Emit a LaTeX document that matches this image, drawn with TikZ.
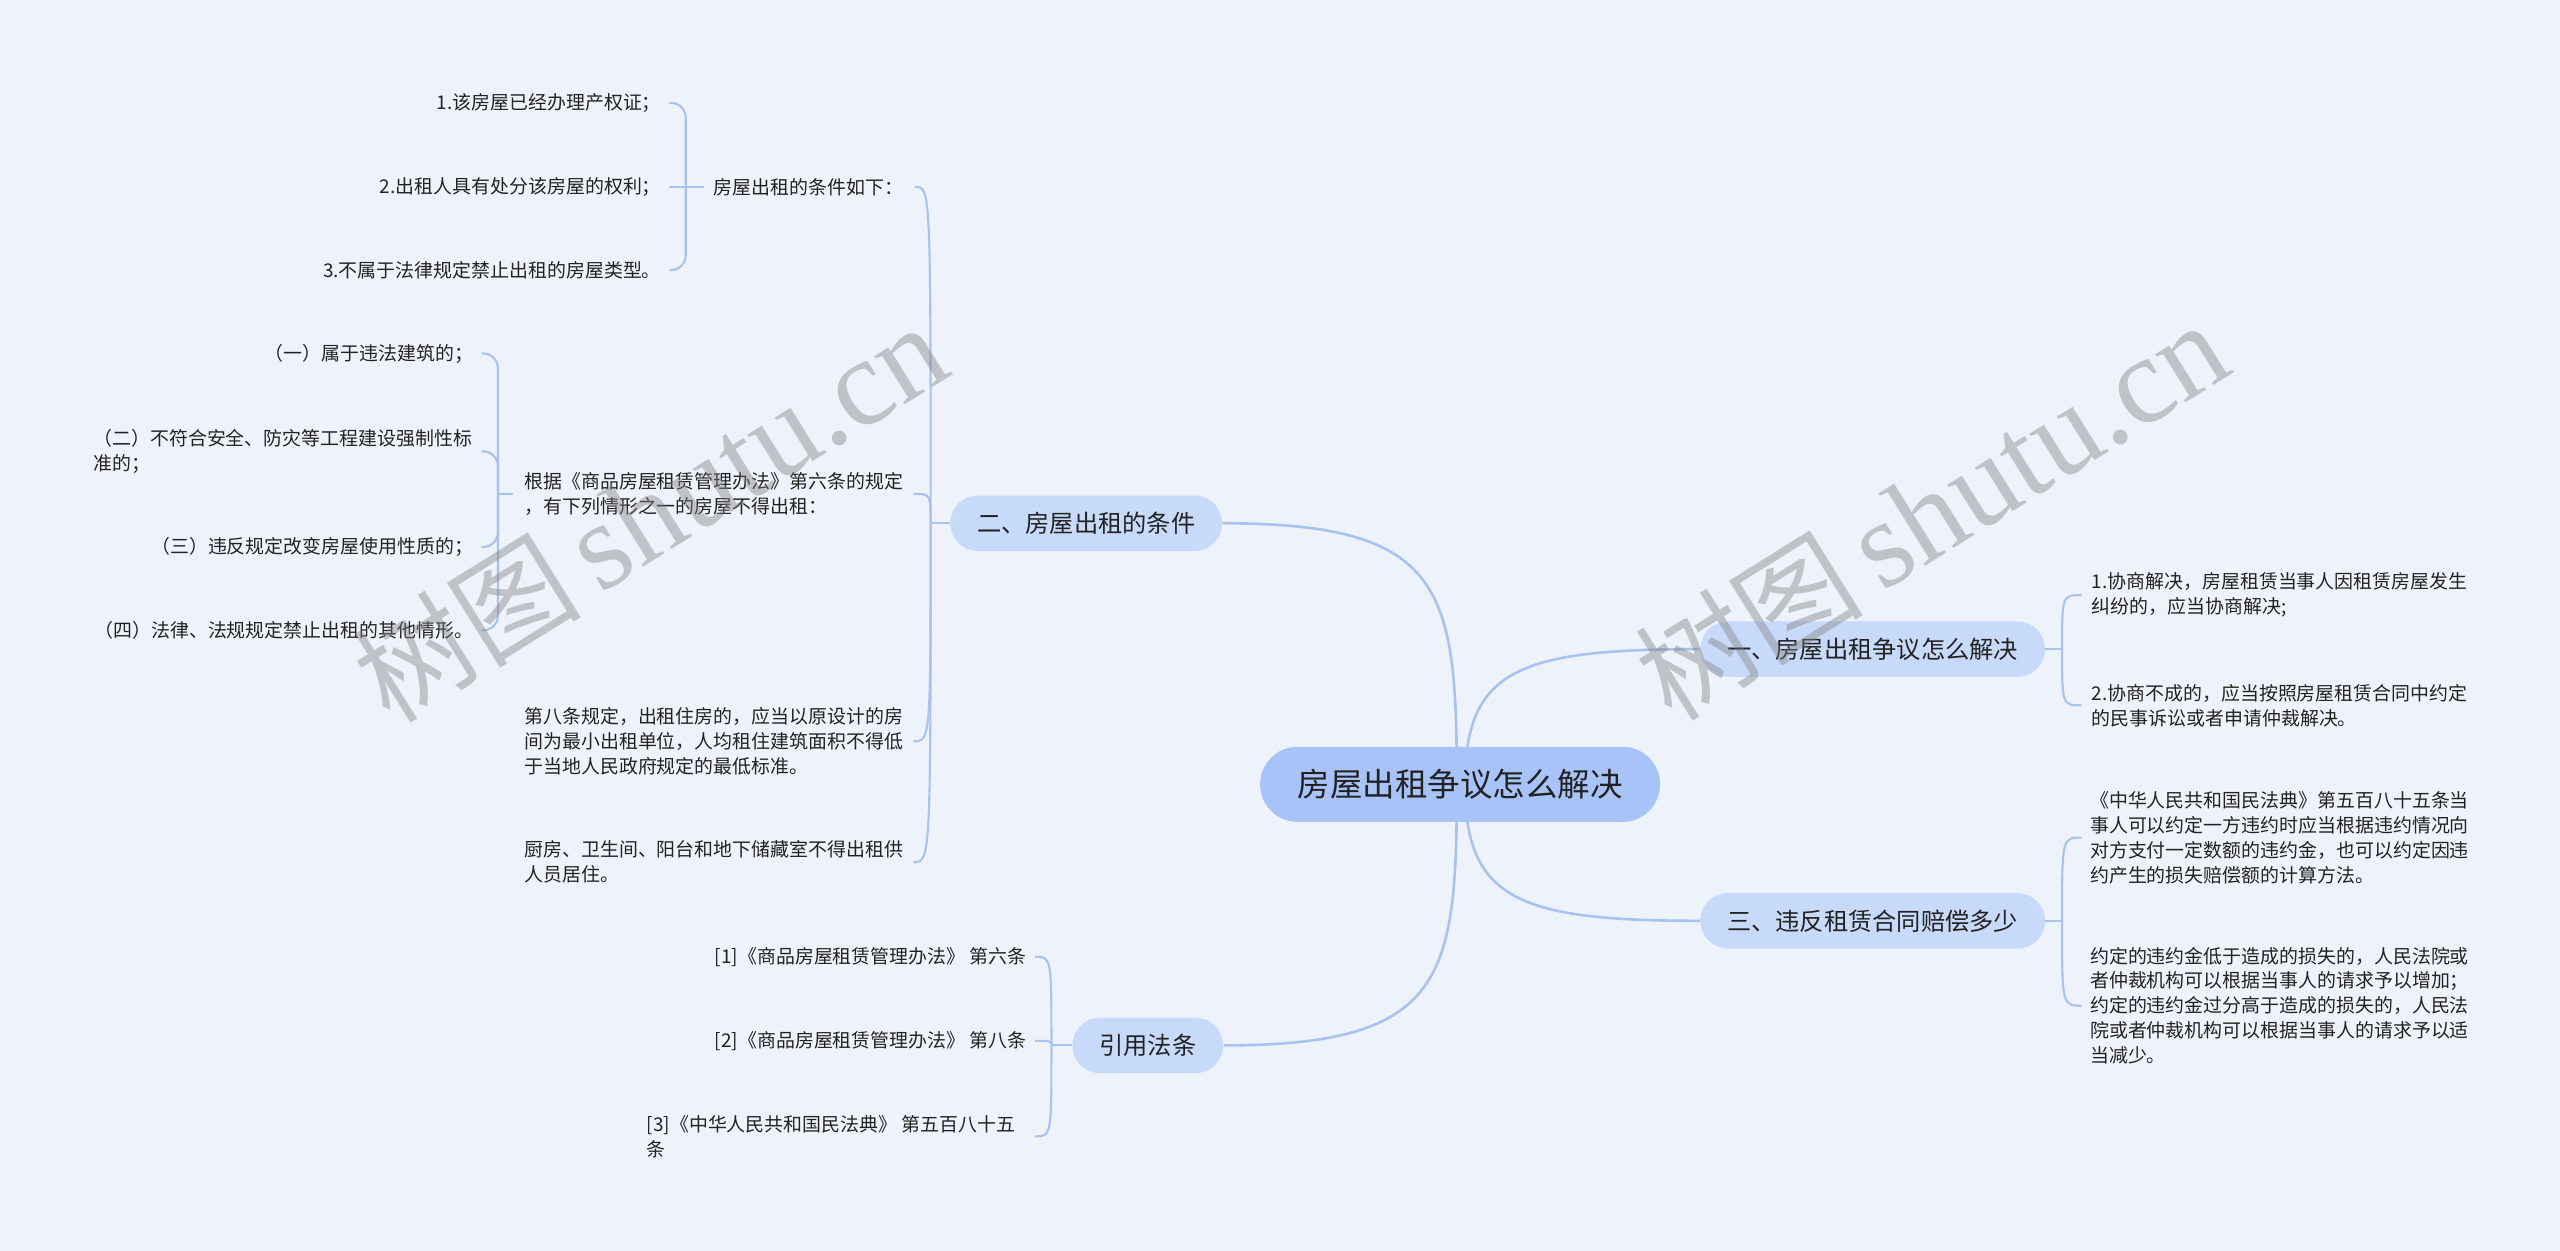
\documentclass[tikz,border=0pt]{standalone}
\usepackage{fontspec}
\newfontfamily\cjk{Noto Sans CJK SC}
\newfontfamily\wmserif{Liberation Serif}
\usetikzlibrary{calc,backgrounds}
\definecolor{bgc}{HTML}{EEF3FB}
\definecolor{rootc}{HTML}{A8C3F8}
\definecolor{lonec}{HTML}{C8DAF9}
\definecolor{linec}{HTML}{A9C2EE}
\definecolor{txt}{HTML}{222222}
\definecolor{wmc}{HTML}{808080}
\tikzset{
  conn/.style={draw=linec, line width=1.3pt},
  mainconn/.style={draw=linec, line width=1.6pt},
  rootn/.style={fill=rootc, rounded corners=23pt, minimum width=245pt, minimum height=46pt, inner sep=0pt, font=\cjk\fontsize{19.9}{24}\selectfont, text=txt},
  lone/.style={fill=lonec, rounded corners=17pt, minimum height=34pt, inner xsep=16.5pt, inner ysep=0pt, font=\cjk\fontsize{14.85}{18}\selectfont, text=txt},
  leaf/.style={inner sep=0pt, font=\cjk\fontsize{11.6}{15.3}\selectfont, text=txt},
  leafm/.style={leaf, align=left},
  wm/.style={text=wmc, opacity=0.42, inner sep=0pt},
}
\begin{document}
\begin{tikzpicture}[x=1pt,y=-1pt]
\useasboundingbox (0,0) rectangle (1568,766);
% root and level 1
\node[rootn] (root) at (894.3,480.4) {房屋出租争议怎么解决};
\node[lone] (n1) at (1147,397.6) {一、房屋出租争议怎么解决};
\node[lone] (n3) at (1147,564) {三、违反租赁合同赔偿多少};
\node[lone] (n2) at (665.3,320.5) {二、房屋出租的条件};
\node[lone] (n4) at (703,640.3) {引用法条};
% branch 二
\node[leaf, anchor=west] (p1) at (437,114.5) {房屋出租的条件如下：};
\node[leafm, anchor=west] (p2) at (321,302.5) {根据《商品房屋租赁管理办法》第六条的规定\\，有下列情形之一的房屋不得出租：};
\node[leafm, anchor=west] (p3) at (321,454) {第八条规定，出租住房的，应当以原设计的房\\间为最小出租单位，人均租住建筑面积不得低\\于当地人民政府规定的最低标准。};
\node[leafm, anchor=west] (p4) at (321,528) {厨房、卫生间、阳台和地下储藏室不得出租供\\人员居住。};
\node[leaf, anchor=east] (a1) at (405,63) {1.该房屋已经办理产权证；};
\node[leaf, anchor=east] (a2) at (405,114.5) {2.出租人具有处分该房屋的权利；};
\node[leaf, anchor=east] (a3) at (405,165.4) {3.不属于法律规定禁止出租的房屋类型。};
\node[leaf, anchor=east] (b1) at (290,216.5) {（一）属于违法建筑的；};
\node[leafm, anchor=west] (b2) at (57,276.5) {（二）不符合安全、防灾等工程建设强制性标\\准的；};
\node[leaf, anchor=east] (b3) at (290,335) {（三）违反规定改变房屋使用性质的；};
\node[leaf, anchor=east] (b4) at (290,386) {（四）法律、法规规定禁止出租的其他情形。};
% branch 引用法条
\node[leaf, anchor=east] (r1) at (629,586) {[1]《商品房屋租赁管理办法》 第六条};
\node[leaf, anchor=east] (r2) at (629,637.5) {[2]《商品房屋租赁管理办法》 第八条};
\node[leafm, anchor=west] (r3) at (396,696) {[3]《中华人民共和国民法典》 第五百八十五\\条};
% branch 一
\node[leafm, anchor=west] (c1) at (1281,364.5) {1.协商解决，房屋租赁当事人因租赁房屋发生\\纠纷的，应当协商解决;};
\node[leafm, anchor=west] (c2) at (1281,432) {2.协商不成的，应当按照房屋租赁合同中约定\\的民事诉讼或者申请仲裁解决。};
% branch 三
\node[leafm, anchor=west] (d1) at (1280,513) {《中华人民共和国民法典》第五百八十五条当\\事人可以约定一方违约时应当根据违约情况向\\对方支付一定数额的违约金，也可以约定因违\\约产生的损失赔偿额的计算方法。};
\node[leafm, anchor=west] (d2) at (1280,616) {约定的违约金低于造成的损失的，人民法院或\\者仲裁机构可以根据当事人的请求予以增加；\\约定的违约金过分高于造成的损失的，人民法\\院或者仲裁机构可以根据当事人的请求予以适\\当减少。};
% bracket spine points
\coordinate (s1) at (1263,397.6);
\coordinate (s3) at (1263,564);
\coordinate (s2) at (570,320.5);
\coordinate (s4) at (644,640.3);
\coordinate (t1) at (420,114.5);
\coordinate (t2) at (305,302.5);
\begin{pgfonlayer}{background}
\fill[bgc] (0,0) rectangle (1568,766);
% root to level 1
\draw[mainconn] ([xshift=-2pt]root.center) .. controls (892.3,360) and (885,320.5) .. (n2.east);
\draw[mainconn] ([xshift=-2pt]root.center) .. controls (892.3,600) and (885,640.3) .. (n4.east);
\draw[mainconn] ([xshift=3pt]root.center) .. controls (897.3,410) and (930,397.6) .. (n1.west);
\draw[mainconn] ([xshift=3pt]root.center) .. controls (897.3,551) and (930,564) .. (n3.west);
% branch 一
\draw[conn] (n1.east) -- (s1);
\draw[conn] (s1) .. controls (s1 |- c1.west) .. ($(c1.west)+(-6,0)$);
\draw[conn] (s1) .. controls (s1 |- c2.west) .. ($(c2.west)+(-6,0)$);
% branch 三
\draw[conn] (n3.east) -- (s3);
\draw[conn] (s3) .. controls (s3 |- d1.west) .. ($(d1.west)+(-5,0)$);
\draw[conn] (s3) .. controls (s3 |- d2.west) .. ($(d2.west)+(-5,0)$);
% branch 二
\draw[conn] (n2.west) -- (s2);
\draw[conn] (s2) .. controls (s2 |- p1.east) .. ($(p1.east)+(7,0)$);
\draw[conn] (s2) .. controls (s2 |- p2.east) .. ($(p2.east)+(6,0)$);
\draw[conn] (s2) .. controls (s2 |- p3.east) .. ($(p3.east)+(6,0)$);
\draw[conn] (s2) .. controls (s2 |- p4.east) .. ($(p4.east)+(6,0)$);
% branch 引用法条
\draw[conn] (n4.west) -- (s4);
\draw[conn] (s4) .. controls (s4 |- r1.east) .. ($(r1.east)+(5,0)$);
\draw[conn] (s4) .. controls (s4 |- r2.east) .. ($(r2.east)+(5,0)$);
\draw[conn] (s4) .. controls (s4 |- r3.west) .. ($(r3.west)+(238,0)$);
% sub-bracket 房屋出租的条件如下
\draw[conn] ($(p1.west)+(-6,0)$) -- (t1);
\draw[conn, rounded corners=9pt] (t1) |- ($(a1.east)+(5,0)$);
\draw[conn] (t1) -- ($(a2.east)+(5,0)$);
\draw[conn, rounded corners=9pt] (t1) |- ($(a3.east)+(5,0)$);
% sub-bracket 根据
\draw[conn] ($(p2.west)+(-7,0)$) -- (t2);
\draw[conn, rounded corners=9pt] (t2) |- ($(b1.east)+(5,0)$);
\draw[conn, rounded corners=9pt] (t2) |- ($(b2.west)+(238,0)$);
\draw[conn, rounded corners=9pt] (t2) |- ($(b3.east)+(5,0)$);
\draw[conn, rounded corners=9pt] (t2) |- ($(b4.east)+(5,0)$);
\end{pgfonlayer}
% watermarks
\node[wm, rotate=32] (w1) at (398,314) {\cjk\fontsize{70}{76}\selectfont 树图\,{\wmserif\fontsize{76}{80}\selectfont shutu.cn}};
\node[wm, rotate=32] (w2) at (1183,313) {\cjk\fontsize{70}{76}\selectfont 树图\,{\wmserif\fontsize{76}{80}\selectfont shutu.cn}};
\end{tikzpicture}
\end{document}
